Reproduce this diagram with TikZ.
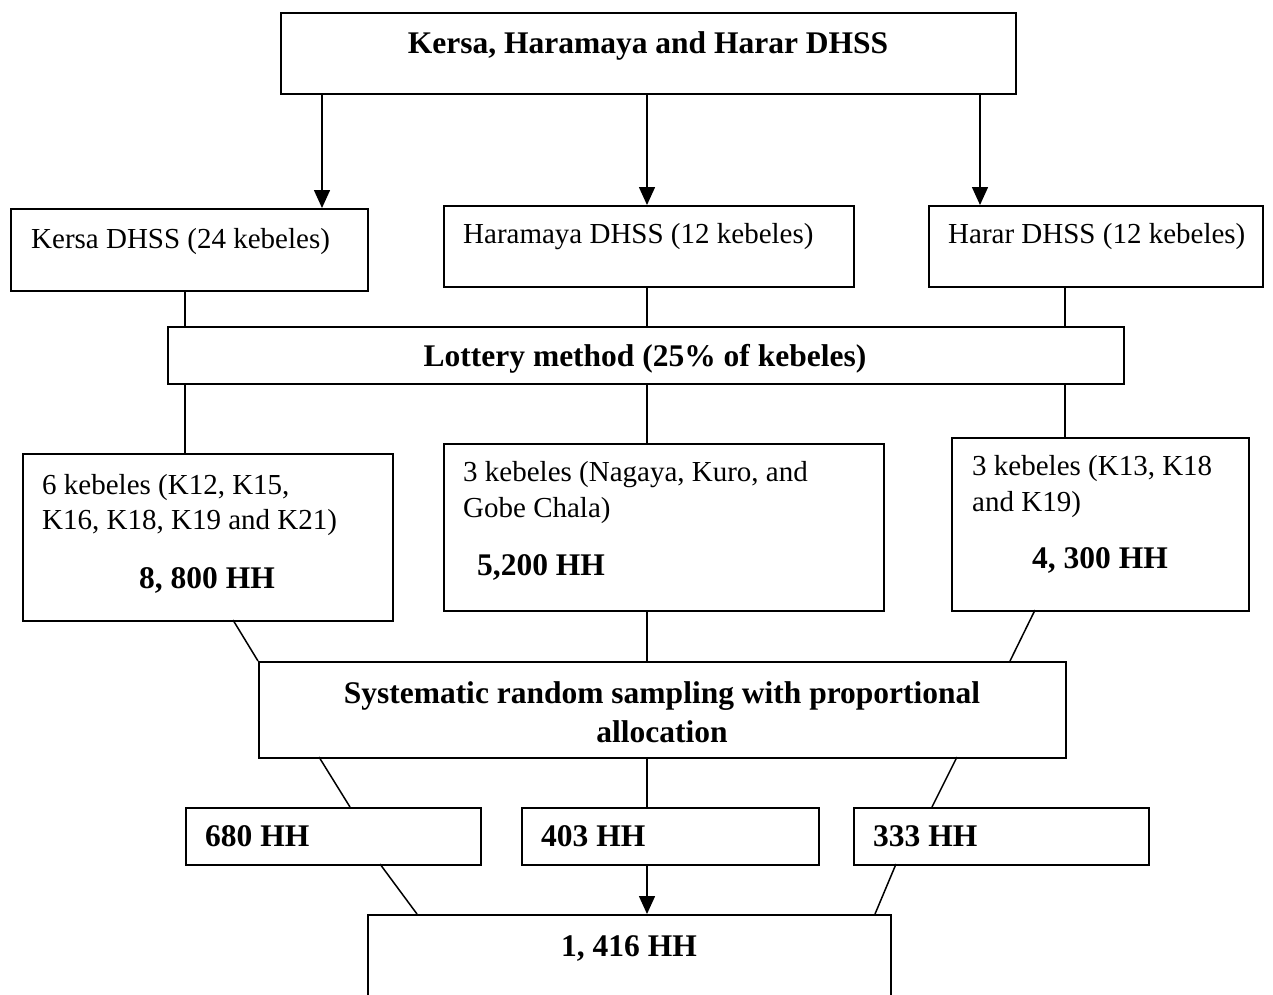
\documentclass[tikz,border=0pt]{standalone}
\usepackage{fontspec}
\setmainfont{Liberation Serif}
\usetikzlibrary{arrows.meta}
\begin{document}
\begin{tikzpicture}[x=1pt,y=-1pt,
 box/.style={draw, line width=1.7pt, inner sep=0pt, anchor=north west},
 ln/.style={line width=1.5pt},
 arr/.style={ln, -{Triangle[width=16pt,length=18pt]}},
 txt/.style={inner sep=0pt, anchor=base west, font=\fontsize{29}{35}\selectfont},
 btxt/.style={inner sep=0pt, anchor=base, font=\fontsize{31.5}{39}\selectfont\bfseries},
 btxtl/.style={btxt, anchor=base west},
]
\useasboundingbox (0,0) rectangle (1273,994);
\clip (0,0) rectangle (1273,994);
\fill[white] (0,0) rectangle (1273,994);

% boxes
\node[box, minimum width=735, minimum height=81] (top) at (280,12) {};
\node[box, minimum width=357, minimum height=82] (kersa) at (10,208) {};
\node[box, minimum width=410, minimum height=81] (hara) at (443,205) {};
\node[box, minimum width=334, minimum height=81] (harar) at (928,205) {};
\node[box, minimum width=956, minimum height=57] (lot) at (167,326) {};
\node[box, minimum width=370, minimum height=167] (k6) at (22,453) {};
\node[box, minimum width=440, minimum height=167] (k3a) at (443,443) {};
\node[box, minimum width=297, minimum height=173] (k3b) at (951,437) {};
\node[box, minimum width=807, minimum height=96] (sys) at (258,661) {};
\node[box, minimum width=295, minimum height=57] (h680) at (185,807) {};
\node[box, minimum width=297, minimum height=57] (h403) at (521,807) {};
\node[box, minimum width=295, minimum height=57] (h333) at (853,807) {};
\node[box, minimum width=523, minimum height=140] (tot) at (367,914) {};

% texts
\node[btxt] (ttop) at (648,53) {Kersa, Haramaya and Harar DHSS};
\node[txt] (tkersa) at (31,248) {Kersa DHSS (24 kebeles)};
\node[txt] (thara) at (463,243) {Haramaya DHSS (12 kebeles)};
\node[txt] (tharar) at (948,243) {Harar DHSS (12 kebeles)};
\node[btxt] (tlot) at (645,366) {Lottery method (25\% of kebeles)};
\node[txt] (tk6a) at (42,494) {6 kebeles (K12, K15,};
\node[txt] (tk6b) at (42,529) {K16, K18, K19 and K21)};
\node[btxt] (tk6c) at (207,588) {8, 800 HH};
\node[txt] (tk3aa) at (463,481) {3 kebeles (Nagaya, Kuro, and};
\node[txt] (tk3ab) at (463,517) {Gobe Chala)};
\node[btxtl] (tk3ac) at (477,575) {5,200 HH};
\node[txt] (tk3ba) at (972,475) {3 kebeles (K13, K18};
\node[txt] (tk3bb) at (972,511) {and K19)};
\node[btxt] (tk3bc) at (1100,568) {4, 300 HH};
\node[btxt] (tsysa) at (662,703) {Systematic random sampling with proportional};
\node[btxt] (tsysb) at (662,742) {allocation};
\node[btxtl] (t680) at (205,846) {680 HH};
\node[btxtl] (t403) at (541,846) {403 HH};
\node[btxtl] (t333) at (873,846) {333 HH};
\node[btxt] (ttot) at (629,956) {1, 416 HH};

% connector coordinates
\coordinate (xa) at (322,0);
\coordinate (xb) at (647,0);
\coordinate (xc) at (980,0);
\coordinate (xl) at (185,0);
\coordinate (xr) at (1065,0);
\coordinate (p1) at (233,620);
\coordinate (p2) at (1035,610);
\coordinate (p3) at (1010,661);
\coordinate (q1) at (319,757);
\coordinate (q2) at (350,807);
\coordinate (q3) at (957,757);
\coordinate (q4) at (932,807);
\coordinate (r1) at (380,864);
\coordinate (r2) at (417,914);
\coordinate (r3) at (896,864);
\coordinate (r4) at (875,914);

% arrows from top
\draw[arr] (top.south -| xa) -- (kersa.north -| xa);
\draw[arr] (top.south -| xb) -- (hara.north -| xb);
\draw[arr] (top.south -| xc) -- (harar.north -| xc);

% to lottery
\draw[ln] (kersa.south -| xl) -- (lot.north -| xl);
\draw[ln] (hara.south -| xb) -- (lot.north -| xb);
\draw[ln] (harar.south -| xr) -- (lot.north -| xr);

% from lottery
\draw[ln] (lot.south -| xl) -- (k6.north -| xl);
\draw[ln] (lot.south -| xb) -- (k3a.north -| xb);
\draw[ln] (lot.south -| xr) -- (k3b.north -| xr);

% to systematic
\draw[ln] (p1) -- (sys.north west);
\draw[ln] (k3a.south -| xb) -- (sys.north -| xb);
\draw[ln] (p2) -- (p3);

% from systematic
\draw[ln] (q1) -- (q2);
\draw[ln] (sys.south -| xb) -- (h403.north -| xb);
\draw[ln] (q3) -- (q4);

% to total
\draw[ln] (r1) -- (r2);
\draw[arr] (h403.south -| xb) -- (tot.north -| xb);
\draw[ln] (r3) -- (r4);
\end{tikzpicture}
\end{document}
